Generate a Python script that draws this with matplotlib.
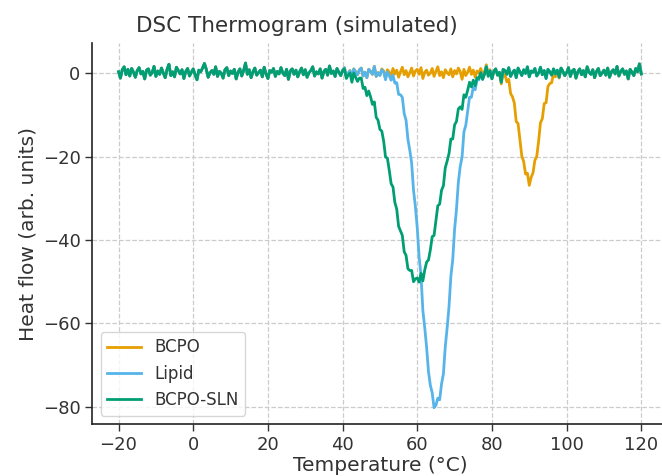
import numpy as np
import matplotlib
matplotlib.use("Agg")
import matplotlib.pyplot as plt

plt.rcParams['font.family'] = ['DejaVu Sans']
plt.rcParams['text.color'] = '#333333'
plt.rcParams['axes.labelcolor'] = '#333333'
plt.rcParams['xtick.color'] = '#333333'
plt.rcParams['ytick.color'] = '#333333'

# ========== data ==========
temps = np.linspace(-20, 120, 281)   # 0.5 °C steps

# instrument baseline jitter (shared by all three runs)
baseline = np.array([
    0.3, -1.2, 0.8, 1.5, -0.4, 0.9, -0.7, 1.1, 0.2, -1.0, 0.6, 1.3, -0.2, 0.4, -1.4, 0.7, 1.0, -0.5, 0.1, 1.6,
    -0.8, 0.5, -0.3, 1.2, 0.0, -1.1, 0.9, 2.1, -0.6, 0.3, -0.9, 1.4, 0.6, -0.2, 0.8, -1.3, 0.4, 1.1, -0.7, 0.2,
    1.0, -0.4, -1.6, 0.7, 0.3, 1.2, 2.3, 0.9, -1.0, 0.1, 0.6, -0.3, 1.5, -0.8, 0.4, 0.0, -1.2, 0.8, 1.3, -0.6,
    0.5, -0.1, 0.9, -1.4, 0.2, 1.0, -0.7, 0.6, 2.4, -0.3, 0.8, -1.1, 0.3, 1.2, -0.5, 0.1, 0.7, -0.9, 1.4, -0.2,
    -1.3, 0.6, 0.2, 1.1, -0.8, 0.4, -0.2, 1.3, 0.0, -0.6, 0.9, -1.5, 0.5, 1.0, -0.3, 0.7, -0.9, 0.3, 1.2, -0.4,
    0.8, -1.0, 0.1, 0.6, 1.5, -0.7, 0.3, -0.2, 1.0, -1.2, 0.4, 0.9, -0.5, 1.7, -0.1, 0.5, -0.8, 1.1, 0.2, -0.6,
    0.7, 1.3, -0.9, 0.0, 0.6, -1.4, 1.0, 0.3, -0.4, 0.8, 1.2, -0.7, 0.2, -1.1, 0.9, 0.4, -0.3, 1.6, -0.8, 0.1,
    -0.5, 1.0, 0.5, -1.2, 0.8, 0.2, -0.6, 1.1, -0.2, 0.7, -1.0, 0.3, 1.4, -0.4, 0.6, -0.9, 0.1, 1.2, -0.7, 0.5,
    0.9, -0.3, 1.3, -1.3, 0.2, 0.7, -0.5, 0.0, 1.1, -0.8, 0.4, 1.5, -0.6, 0.3, -1.1, 0.8, 0.1, -0.4, 1.0, -0.9,
    0.6, -0.2, 1.2, 0.4, -1.5, 0.9, -0.6, 0.2, 1.4, -0.3, 0.7, -1.0, 0.5, 0.0, 1.1, -0.7, 0.3, 2.0, -0.4, 0.8,
    -1.2, 0.4, 1.0, -0.5, 0.2, -2.2, 0.9, 0.6, -0.3, 1.3, -0.8, 0.1, 0.7, -1.1, 1.2, 0.3, -0.6, 0.8, -0.1, 1.5,
    -0.9, 0.5, 0.2, 1.1, -0.7, 0.0, 1.4, -0.4, 0.6, -1.3, 0.9, 0.3, -0.5, 1.0, -0.2, 0.7, -1.0, 1.2, 0.4, -0.6,
    0.1, 1.3, -0.8, 0.5, 0.9, -1.2, 0.3, 1.0, -0.4, 0.6, -0.9, 1.5, 0.2, -0.3, 0.8, -1.1, 0.4, 1.1, -0.6, 0.0,
    0.7, -0.5, 1.2, -1.0, 0.3, 0.8, -0.2, 1.6, -0.7, 0.4, 1.0, -0.3, 0.5, -1.4, 0.9, 0.2, -0.6, 1.1, 0.3, 2.2,
    -0.2,
])

# endothermic dips (depth below baseline), same 0.5 °C steps
bcpo_start = 82.0   # melting peak ~90 °C
bcpo_dip = [0.2, 0.4, 0.7, 1.1, 1.8, 2.8, 4.1, 5.8, 7.9, 10.5, 13.3, 16.3, 19.3, 22.0, 24.1, 25.5,
            26.0,
            25.5, 24.1, 22.0, 19.3, 16.3, 13.3, 10.5, 7.9, 5.8, 4.1, 2.8, 1.8, 1.1, 0.7, 0.4, 0.2]

lipid_start = 50.0  # melting peak ~65 °C
lipid_dip = [0.1, 0.2, 0.2, 0.4, 0.5, 0.8, 1.1, 1.6, 2.2, 3.0, 4.1, 5.5, 7.2, 9.3, 11.9,
             15.0, 18.6, 22.8, 27.4, 32.5, 38.0, 43.8, 49.7, 55.6, 61.2, 66.4, 71.0, 74.8, 77.7, 79.4,
             80.0,
             79.4, 77.7, 74.8, 71.0, 66.4, 61.2, 55.6, 49.7, 43.8, 38.0, 32.5, 27.4, 22.8, 18.6, 15.0,
             11.9, 9.3, 7.2, 5.5, 4.1, 3.0, 2.2, 1.6, 1.1, 0.8, 0.5, 0.4, 0.2, 0.2, 0.1]

sln_start = 40.0    # broadened, shifted peak ~60 °C
sln_dip = [0.2, 0.3, 0.4, 0.5, 0.6, 0.8, 1.0, 1.3, 1.6, 2.0, 2.4, 3.0, 3.6, 4.3, 5.2, 6.1, 7.2, 8.5, 9.8, 11.4,
           13.0, 14.9, 16.8, 18.9, 21.2, 23.5, 25.9, 28.4, 30.8, 33.3, 35.7, 38.1, 40.3, 42.4, 44.3, 46.0,
           47.4, 48.5, 49.3, 49.8,
           50.0,
           49.8, 49.3, 48.5, 47.4, 46.0, 44.3, 42.4, 40.3, 38.1, 35.7, 33.3, 30.8, 28.4, 25.9, 23.5, 21.2,
           18.9, 16.8, 14.9, 13.0, 11.4, 9.8, 8.5, 7.2, 6.1, 5.2, 4.3, 3.6, 3.0, 2.4, 2.0, 1.6, 1.3, 1.0,
           0.8, 0.6, 0.5, 0.4, 0.3, 0.2]

labels = ['BCPO', 'Lipid', 'BCPO-SLN']
colors = ['#E69F00', '#56B4E9', '#009E73']


def with_dip(start, dip):
    # put a dip on top of the shared baseline
    y = baseline.copy()
    i = int(np.searchsorted(temps, start))
    y[i:i + len(dip)] -= np.array(dip)
    return y


curves = [with_dip(bcpo_start, bcpo_dip),
          with_dip(lipid_start, lipid_dip),
          with_dip(sln_start, sln_dip)]

# ========== plot ==========
fig = plt.figure(figsize=(6.62, 4.76), dpi=100)
ax = fig.add_axes([0.1396, 0.1092, 0.8686, 0.8004])

for y, lab, c in zip(curves, labels, colors):
    ax.plot(temps, y, color=c, linewidth=2, label=lab)

ax.set_xlim(-27, 127)
ax.set_ylim(-84.1, 7.2)
ax.set_xticks([-20, 0, 20, 40, 60, 80, 100, 120])
ax.set_yticks([0, -20, -40, -60, -80])
ax.grid(True, linestyle='--', color='#cccccc', linewidth=0.9)
ax.set_axisbelow(True)
for side in ['top', 'right']:
    ax.spines[side].set_visible(False)
for side in ['left', 'bottom']:
    ax.spines[side].set_linewidth(1.2)
    ax.spines[side].set_color('#222222')
ax.tick_params(labelsize=13, length=5, width=1.0)

ax.set_xlabel('Temperature (°C)', fontsize=14.5, labelpad=1.5)
ax.set_ylabel('Heat flow (arb. units)', fontsize=14.5)
fig.text(0.449, 0.933, 'DSC Thermogram (simulated)', fontsize=15.5,
         ha='center', va='baseline')

ax.legend(loc='lower left', fontsize=12, frameon=True, framealpha=0.8,
          edgecolor='#cccccc')

fig.savefig('out.png', dpi=100)
